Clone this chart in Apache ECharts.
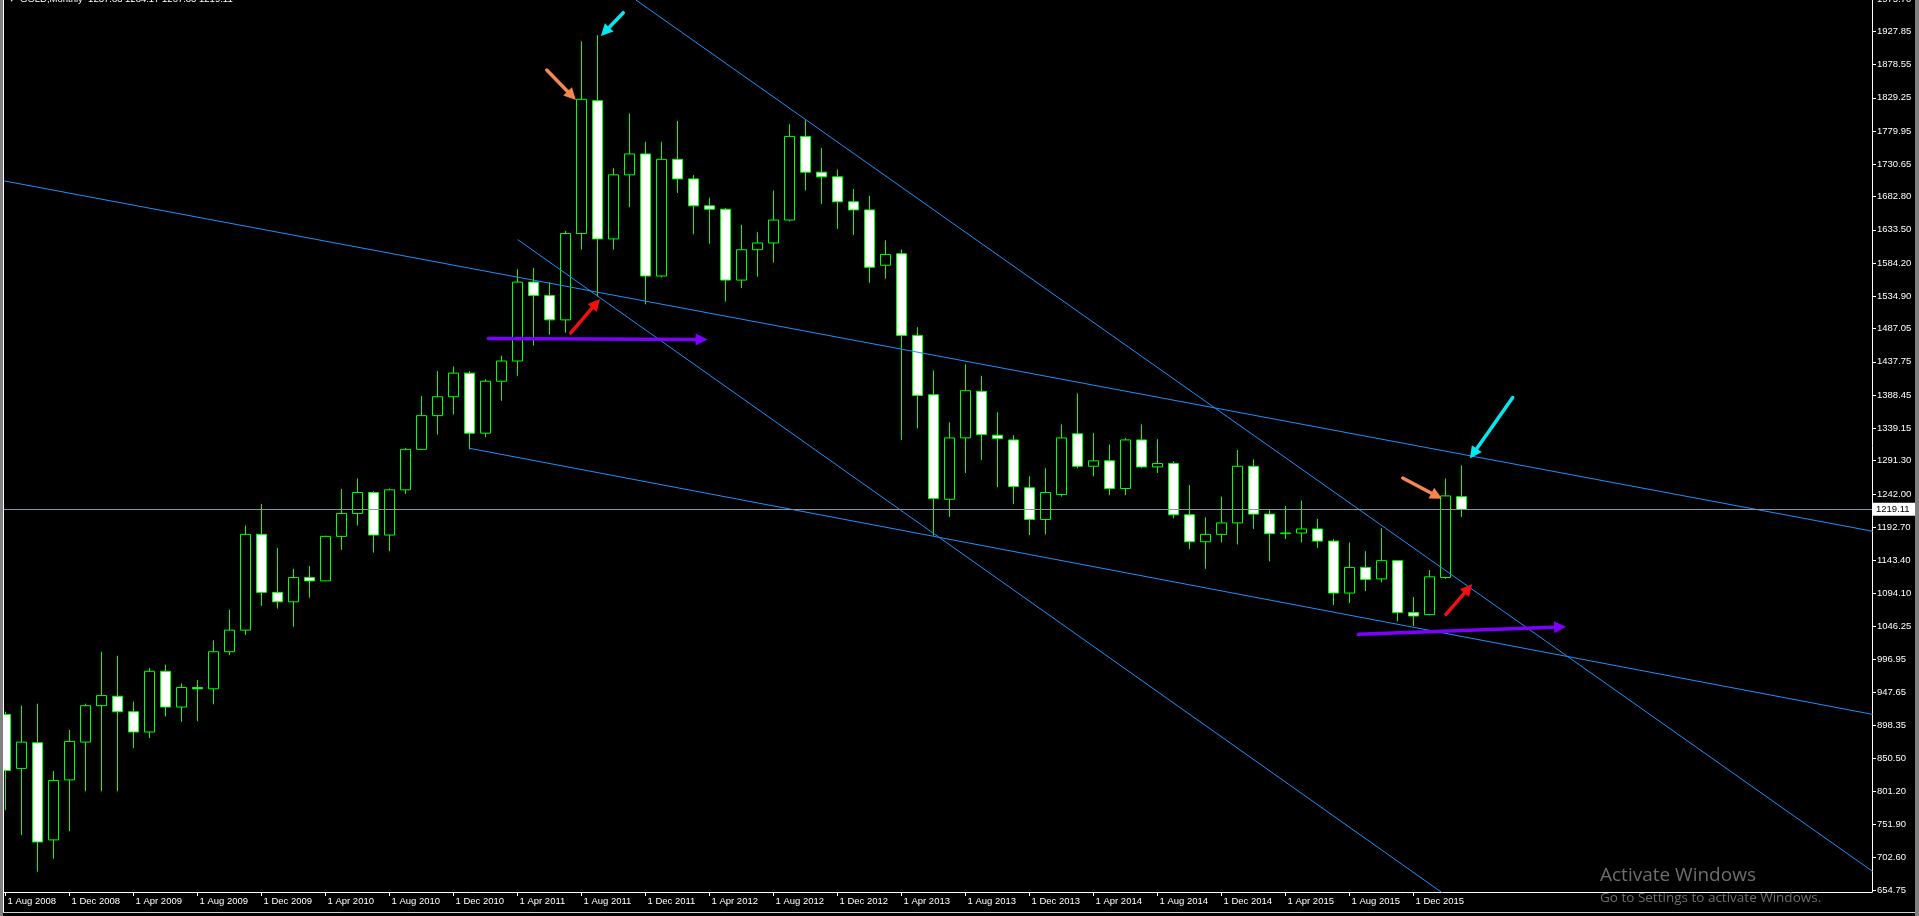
<!DOCTYPE html>
<html><head><meta charset="utf-8">
<script src="https://cdn.jsdelivr.net/npm/echarts@6/dist/echarts.min.js"></script>
<style>html,body{margin:0;padding:0;background:#000;overflow:hidden}#c{width:1919px;height:916px}</style>
</head><body><div id="c"></div>
<script>
// ---- data ----
const months = [
 '1 Aug 2008','1 Sep 2008','1 Oct 2008','1 Nov 2008','1 Dec 2008',
 '1 Jan 2009','1 Feb 2009','1 Mar 2009','1 Apr 2009','1 May 2009','1 Jun 2009','1 Jul 2009','1 Aug 2009','1 Sep 2009','1 Oct 2009','1 Nov 2009','1 Dec 2009',
 '1 Jan 2010','1 Feb 2010','1 Mar 2010','1 Apr 2010','1 May 2010','1 Jun 2010','1 Jul 2010','1 Aug 2010','1 Sep 2010','1 Oct 2010','1 Nov 2010','1 Dec 2010',
 '1 Jan 2011','1 Feb 2011','1 Mar 2011','1 Apr 2011','1 May 2011','1 Jun 2011','1 Jul 2011','1 Aug 2011','1 Sep 2011','1 Oct 2011','1 Nov 2011','1 Dec 2011',
 '1 Jan 2012','1 Feb 2012','1 Mar 2012','1 Apr 2012','1 May 2012','1 Jun 2012','1 Jul 2012','1 Aug 2012','1 Sep 2012','1 Oct 2012','1 Nov 2012','1 Dec 2012',
 '1 Jan 2013','1 Feb 2013','1 Mar 2013','1 Apr 2013','1 May 2013','1 Jun 2013','1 Jul 2013','1 Aug 2013','1 Sep 2013','1 Oct 2013','1 Nov 2013','1 Dec 2013',
 '1 Jan 2014','1 Feb 2014','1 Mar 2014','1 Apr 2014','1 May 2014','1 Jun 2014','1 Jul 2014','1 Aug 2014','1 Sep 2014','1 Oct 2014','1 Nov 2014','1 Dec 2014',
 '1 Jan 2015','1 Feb 2015','1 Mar 2015','1 Apr 2015','1 May 2015','1 Jun 2015','1 Jul 2015','1 Aug 2015','1 Sep 2015','1 Oct 2015','1 Nov 2015','1 Dec 2015',
 '1 Jan 2016','1 Feb 2016','1 Mar 2016'
];
const open = [
 915,835,873,729,818,
 874,928,942,919,889,979,926,955,953,1008,1040,1182,
 1096,1082,1118,1113,1179,1213,1244,1181,1248,1308,1358,1386,
 1421,1332,1409,1439,1556,1536,1500,1628,1825,1620,1715,1746,
 1565,1738,1709,1669,1664,1559,1604,1614,1648,1772,1719,1712,
 1675,1663,1581,1598,1477,1389,1234,1325,1394,1329,1322,1251,
 1204,1241,1331,1283,1291,1250,1322,1282,1287,1211,1171,1182,
 1199,1283,1212,1183,1184,1190,1172,1095,1133,1116,1143,1066,
 1063,1118,1237.83
];
const high = [
 919,928,931,831,892,
 931,1008,1002,934,984,989,961,966,1025,1070,1195,1227,
 1162,1131,1135,1180,1249,1265,1246,1250,1310,1387,1424,1431,
 1424,1412,1447,1575,1577,1556,1632,1913,1922,1725,1806,1764,
 1764,1795,1715,1681,1666,1641,1630,1692,1790,1796,1755,1723,
 1694,1684,1618,1604,1489,1425,1348,1434,1417,1363,1329,1268,
 1280,1345,1391,1332,1315,1325,1345,1323,1290,1255,1207,1238,
 1307,1293,1219,1224,1232,1205,1175,1170,1157,1191,1143,1089,
 1129,1265,1284.17
];
const low = [
 773,736,682,701,742,
 801,801,801,865,880,912,904,905,930,1003,1033,1076,
 1072,1045,1088,1113,1159,1195,1155,1157,1242,1307,1330,1360,
 1308,1326,1380,1417,1462,1478,1481,1604,1535,1604,1667,1523,
 1563,1688,1627,1613,1527,1547,1564,1585,1646,1692,1672,1635,
 1626,1555,1561,1322,1339,1180,1208,1273,1292,1252,1227,1181,
 1182,1238,1280,1268,1240,1240,1280,1273,1206,1160,1131,1170,
 1167,1190,1142,1175,1170,1162,1077,1080,1098,1111,1053,1046,
 1062,1116,1207.83
];
const close = [
 832,874,726,817,875,
 928,943,919,889,979,926,955,953,1008,1040,1182,1096,
 1082,1118,1113,1179,1213,1244,1181,1248,1308,1358,1386,1421,
 1332,1409,1439,1556,1536,1500,1628,1827,1620,1715,1746,1565,
 1738,1709,1669,1664,1559,1604,1614,1648,1772,1719,1712,1675,
 1663,1578,1597,1477,1388,1235,1325,1395,1330,1324,1253,1204,
 1244,1325,1283,1291,1250,1322,1282,1287,1211,1171,1182,1199,
 1283,1212,1183,1184,1190,1172,1095,1133,1115,1143,1066,1061,
 1119,1239,1219.11
];
const xTickLabels = ['1 Aug 2008','1 Dec 2008','1 Apr 2009','1 Aug 2009','1 Dec 2009','1 Apr 2010','1 Aug 2010','1 Dec 2010',
 '1 Apr 2011','1 Aug 2011','1 Dec 2011','1 Apr 2012','1 Aug 2012','1 Dec 2012','1 Apr 2013','1 Aug 2013','1 Dec 2013',
 '1 Apr 2014','1 Aug 2014','1 Dec 2014','1 Apr 2015','1 Aug 2015','1 Dec 2015'];
const yTickLabels = [654.75,702.60,751.90,801.20,850.50,898.35,947.65,996.95,1046.25,1094.10,1143.40,1192.70,1242.00,
 1291.30,1339.15,1388.45,1437.75,1487.05,1534.90,1584.20,1633.50,1682.80,1730.65,1779.95,1829.25,1878.55,1927.85,1975.70];
const symbolName = 'GOLD,Monthly';
const bidPrice = 1219.11;
// trend lines: [[monthIndex, price], [monthIndex, price]]
const trendLines = [
 [[-0.35, 1707.2], [116.7, 1186.6]],
 [[28.97, 1309.7], [116.7, 915.1]],
 [[39.4, 1974.2], [116.7, 682.2]],
 [[32.01, 1619.0], [90.9, 632.1]]
];
// arrows: [kind, [from index, from price], [to index, to price]]
const arrows = [
 ['orange', [33.83, 1870.4], [35.39, 1832.3]],
 ['cyan',   [38.61, 1955.4], [37.47, 1927.2]],
 ['red',    [35.33, 1480.7], [36.91, 1524.3]],
 ['purple', [30.18, 1472.4], [43.51, 1470.9]],
 ['orange', [87.33, 1265.6], [89.45, 1238.9]],
 ['cyan',   [94.20, 1384.9], [91.74, 1301.8]],
 ['red',    [90.03, 1063.5], [91.43, 1101.6]],
 ['purple', [84.56, 1033.8], [97.16, 1044.6]]
];

// ---- styles ----
const arrowColors = {orange:'#F7874E', cyan:'#00E8F0', red:'#F01010', purple:'#7F00FF'};
const FONT = 'Liberation Sans';
const FS = 9.5;

const candles = months.map((m, i) => [i, open[i], close[i], low[i], high[i]]);
const xTickPos = xTickLabels.map(t => months.indexOf(t));

const chart = echarts.init(document.getElementById('c'), null, {renderer:'canvas'});
const series = [{
  type:'candlestick',
  data: candles,
  encode:{x:0, y:[1,2,3,4]},
  barWidth: 10,
  itemStyle:{color:'#000', color0:'#fff', borderColor:'#00ff00', borderColor0:'#00ff00', borderColorDoji:'#00ff00', borderWidth:1},
  silent:true,
  z:2,
  markLine:{
    silent:true, symbol:['none','none'], animation:false,
    lineStyle:{color:'#8795a3', width:1, type:'solid'},
    label:{show:true, position:'end', formatter: bidPrice.toFixed(2), color:'#000', backgroundColor:'#fff',
      padding:[2,7,1,4], fontSize:FS, fontFamily:FONT, distance:0},
    data:[{yAxis: bidPrice}]
  }
}];
trendLines.forEach((tl, k) => {
  const s = {
    type:'line', data: tl, symbol:'none', showSymbol:false, clip:true, silent:true, z:3,
    lineStyle:{color:'#1E90FF', width:1}
  };
  if (k === 0) {
    s.markLine = {
      silent:true, animation:false,
      symbol:['none','path://M5,0L10,11L0,11Z'], symbolSize:12,
      label:{show:false},
      data: arrows.map(a => [
        {coord:a[1], lineStyle:{color:arrowColors[a[0]], width:3.5, type:'solid', cap:'round'}, itemStyle:{color:arrowColors[a[0]]}},
        {coord:a[2], itemStyle:{color:arrowColors[a[0]]}}
      ])
    };
  }
  series.push(s);
});

const last = open.length - 1;
chart.setOption({
  animation:false,
  backgroundColor:'#000',
  grid:{left:4, right:47, top:-1, bottom:24, containLabel:false, outerBoundsMode:'none'},
  xAxis:{
    type:'value', min:-0.09375, max:116.65625,
    axisLine:{onZero:false, lineStyle:{color:'#fff', width:1}},
    axisTick:{show:true, length:4, lineStyle:{color:'#fff'}, customValues:xTickPos},
    axisLabel:{color:'#fff', fontSize:FS, fontFamily:FONT, align:'left', margin:4, padding:[0,0,0,2],
      customValues:xTickPos, formatter:v => months[Math.round(v)] || ''},
    splitLine:{show:false}
  },
  yAxis:{
    type:'value', position:'right', min:651.78, max:1975.70, scale:true,
    axisLine:{show:true, onZero:false, lineStyle:{color:'#fff', width:1}},
    axisTick:{show:true, length:4, lineStyle:{color:'#fff'}, customValues:yTickLabels},
    axisLabel:{color:'#fff', fontSize:FS, fontFamily:FONT, margin:5, customValues:yTickLabels,
      formatter:v => Number(v).toFixed(2)},
    splitLine:{show:false}
  },
  series: series,
  graphic:[
    {type:'rect', shape:{x:0, y:0, width:3, height:916}, style:{fill:'#808080'}, silent:true, z:100},
    {type:'line', shape:{x1:3.5, y1:0, x2:3.5, y2:912}, style:{stroke:'#fff', lineWidth:1}, silent:true, z:100},
    {type:'rect', shape:{x:1915, y:0, width:4, height:916}, style:{fill:'#808080'}, silent:true, z:100},
    {type:'line', shape:{x1:3, y1:912.5, x2:1915, y2:912.5}, style:{stroke:'#d0d0d0', lineWidth:1}, silent:true, z:100},
    {type:'text', left:9, top:-4, style:{text:'▼', fill:'#fff', fontSize:7, fontFamily:'DejaVu Sans'}, silent:true, z:100},
    {type:'text', left:20, top:-6, style:{text: symbolName + '  ' + [open[last], high[last], low[last], close[last]].map(v=>v.toFixed(2)).join(' '),
      fill:'#fff', fontSize:FS, fontFamily:FONT}, silent:true, z:100},
    {type:'text', left:1600, top:866, style:{text:'Activate Windows', fill:'#6e6e6e', fontSize:19, fontFamily:'Open Sans'}, silent:true, z:100},
    {type:'text', left:1600, top:891, style:{text:'Go to Settings to activate Windows.', fill:'#6e6e6e', fontSize:13.5, fontFamily:'Open Sans'}, silent:true, z:100}
  ]
});
</script></body></html>
